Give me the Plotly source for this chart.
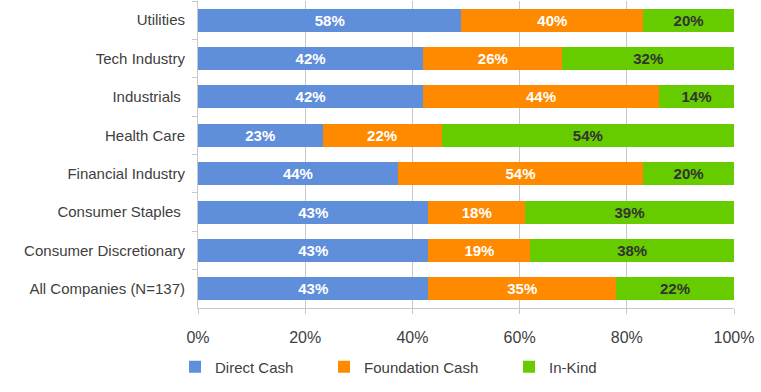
import plotly.graph_objects as go

categories = ["Utilities", "Tech Industry", "Industrials\u00a0", "Health Care", "Financial Industry",
              "Consumer Staples\u00a0", "Consumer Discretionary", "All Companies (N=137)"]
direct_cash = [58, 42, 42, 23, 44, 43, 43, 43]
foundation_cash = [40, 26, 44, 22, 54, 18, 19, 35]
in_kind = [20, 32, 14, 54, 20, 39, 38, 22]
x_ticks = [0, 20, 40, 60, 80, 100]
x_tick_labels = ["0%", "20%", "40%", "60%", "80%", "100%"]

series = [
    ("Direct Cash", direct_cash, "#5f8edb", "white", "legend"),
    ("Foundation Cash", foundation_cash, "#ff8a00", "white", "legend2"),
    ("In-Kind", in_kind, "#66cc00", "#333333", "legend3"),
]

fig = go.Figure()
for name, vals, color, tcolor, lg in series:
    fig.add_trace(go.Bar(
        y=categories, x=vals, name=name, orientation="h",
        marker=dict(color=color, line=dict(width=0)),
        text=vals, texttemplate="%{text}%", textposition="inside",
        insidetextanchor="middle", constraintext="none",
        textfont=dict(family="Liberation Sans, Arial", size=15, color=tcolor, weight="bold"),
        width=0.6, legend=lg, showlegend=True,
    ))

legend_common = dict(orientation="h", yanchor="middle", y=-0.192, xanchor="left", xref="container",
                     font=dict(family="Liberation Sans, Arial", size=15, color="#404040"),
                     bgcolor="rgba(0,0,0,0)")
fig.update_layout(
    barmode="stack", barnorm="percent",
    width=761, height=392,
    margin=dict(l=198, r=27, t=1, b=84, autoexpand=False),
    plot_bgcolor="white", paper_bgcolor="white",
    font=dict(family="Liberation Sans, Arial", color="#404040"),
    legend=dict(x=0.230, **legend_common),
    legend2=dict(x=0.4258, **legend_common),
    legend3=dict(x=0.6689, **legend_common),
    xaxis=dict(range=[0, 100], tickvals=x_ticks, ticktext=x_tick_labels,
               showgrid=True, gridcolor="#c8c8c8", gridwidth=1,
               showline=True, linecolor="#c8c8c8", ticks="outside", ticklen=5,
               tickcolor="#c8c8c8", tickfont=dict(size=16, color="#404040"),
               ticklabelstandoff=10, zeroline=False, fixedrange=True, automargin=False),
    yaxis=dict(categoryorder="array", categoryarray=categories, autorange="reversed",
               showline=True, linecolor="#c8c8c8", ticks="outside", ticklen=5,
               tickcolor="#c8c8c8", tickson="boundaries",
               tickfont=dict(size=15, color="#404040"), ticklabelstandoff=9,
               showgrid=False, automargin=False, fixedrange=True),
    bargap=0.4,
)
fig.write_html("out.html", post_script="document.body.style.margin='0';",
               config={"displayModeBar": False})
